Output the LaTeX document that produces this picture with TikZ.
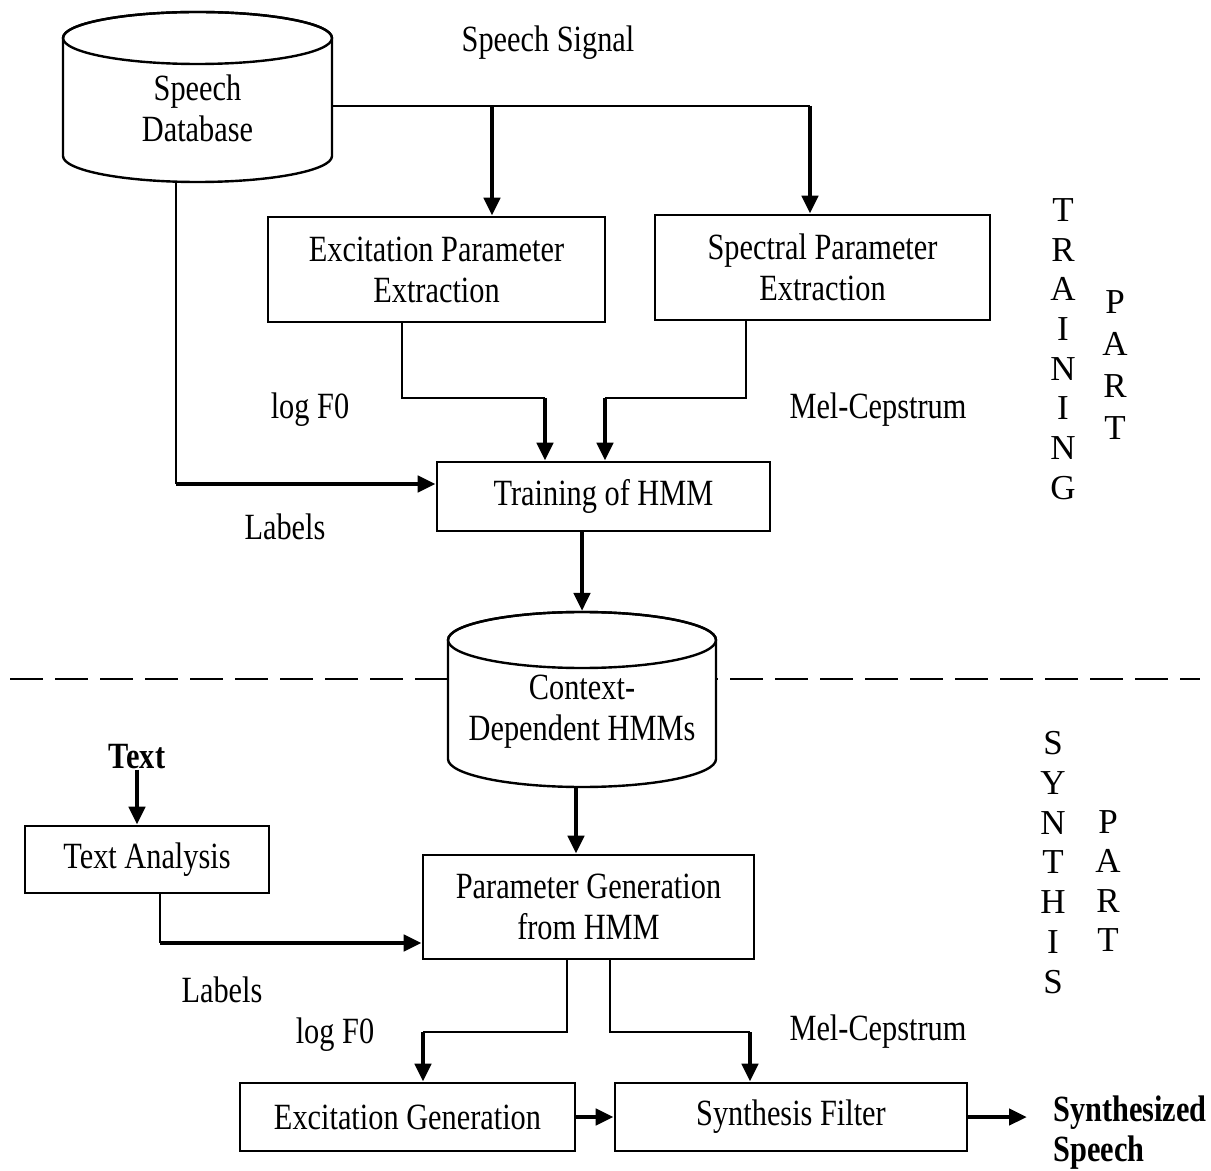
\documentclass[tikz,border=0pt]{standalone}
\usepackage{fontspec}
\setmainfont{Liberation Serif}[FakeStretch=0.82]
\newfontfamily\stackfont{Liberation Serif}
\usetikzlibrary{arrows.meta}
\begin{document}
\begin{tikzpicture}[x=0.5pt,y=-0.5pt,
  every node/.style={inner sep=0pt, font=\fontsize{18.5}{20.5}\selectfont},
  box/.style={draw, line width=1.4pt, align=center},
  lbl/.style={align=center},
  boldlbl/.style={align=left, font=\fontsize{18.5}{20}\selectfont\bfseries},
  wire/.style={line width=1.2pt},
  flow/.style={line width=2.4pt, -{Triangle[length=9pt,width=8pt]}},
  cylbody/.style={fill=white, draw, line width=1.2pt},
  letters/.style={align=center},
  divider/.style={line width=1.2pt, dash pattern=on 16.5pt off 6pt}
]
% canvas
\fill[white] (0,0) rectangle (1211,1171);
\useasboundingbox (0,0) rectangle (1211,1171);

% boundary between training and synthesis
\coordinate (dl) at (10,679);
\coordinate (dr) at (1200,679);
\draw[divider] (dl) -- (dr);

% speech database cylinder
\path[cylbody] (63,38) -- (63,156)
  arc[start angle=180, end angle=360, x radius=67.25pt, y radius=13pt]
  -- (332,38)
  arc[start angle=0, end angle=180, x radius=67.25pt, y radius=13pt] -- cycle;
\draw[line width=1.2pt] (197.5,38) ellipse [x radius=67.25pt, y radius=13pt];
\node[lbl, minimum width=134.5pt] (db) at (197.5,108) {Speech\\Database};
\coordinate (dbbot) at (176,182);

% context-dependent HMM cylinder
\path[cylbody] (448,640) -- (448,759)
  arc[start angle=180, end angle=360, x radius=67pt, y radius=14pt]
  -- (716,640)
  arc[start angle=0, end angle=180, x radius=67pt, y radius=14pt] -- cycle;
\draw[line width=1.2pt] (582,640) ellipse [x radius=67pt, y radius=14pt];
\node[lbl] (cdb) at (582,712) {Context-\\Dependent HMMs};
\coordinate (cdbtop) at (582,611);
\coordinate (cdbbot) at (576,787);

% processing blocks
\node[box, minimum width=168.5pt, minimum height=52.5pt] (excp) at (436.5,269.5) {Excitation Parameter\\Extraction};
\node[box, minimum width=167.5pt, minimum height=52.5pt] (spec) at (822.5,267.5) {Spectral Parameter\\Extraction};
\node[box, minimum width=166.5pt, minimum height=34.5pt] (train) at (603.5,496.5) {Training of HMM};
\node[box, minimum width=122pt, minimum height=33.5pt] (tana) at (147,859.5) {Text Analysis};
\node[box, minimum width=165.5pt, minimum height=52pt] (pgen) at (588.5,907) {Parameter Generation\\from HMM};
\node[box, minimum width=167.5pt, minimum height=34pt] (exgen) at (407.5,1117) {Excitation Generation};
\node[box, minimum width=176pt, minimum height=34pt] (synf) at (791,1117) {Synthesis Filter};

% labels
\node[lbl] (sig) at (548,43) {Speech Signal};
\node[lbl] (lf1) at (310,410) {log F0};
\node[lbl] (mc1) at (878,410) {Mel-Cepstrum};
\node[lbl] (lab1) at (285,527) {Labels};
\node[boldlbl] (txt) at (137,757) {Text};
\node[lbl] (lab2) at (222,990) {Labels};
\node[lbl] (lf2) at (335,1035) {log F0};
\node[lbl] (mc2) at (878,1032) {Mel-Cepstrum};
\node[boldlbl, anchor=west] (out) at (1053,1133) {Synthesized\\Speech};

% side captions
\node[letters, font=\stackfont\fontsize{17.5}{19.85}\selectfont] (trn) at (1063,349) {T\\R\\A\\I\\N\\I\\N\\G};
\node[letters, font=\stackfont\fontsize{17.5}{21}\selectfont] (trp) at (1115,365) {P\\A\\R\\T};
\node[letters, font=\stackfont\fontsize{17.5}{19.9}\selectfont] (syn) at (1053,862.5) {S\\Y\\N\\T\\H\\I\\S};
\node[letters, font=\stackfont\fontsize{17.5}{19.65}\selectfont] (syp) at (1108,881) {P\\A\\R\\T};

% training connections
\coordinate (s1) at (492,106);
\coordinate (s2) at (810,106);
\draw[wire] (db.east |- s1) -- (s2);
\draw[flow] (s1) -- (s1 |- excp.north);
\draw[flow] (s2) -- (s2 |- spec.north);

\coordinate (k1) at (402,398);
\coordinate (k2) at (545,398);
\draw[wire] (excp.south -| k1) -- (k1) -- (k2);
\draw[flow] (k2) -- (k2 |- train.north);
\coordinate (k3) at (746,398);
\coordinate (k4) at (605,398);
\draw[wire] (spec.south -| k3) -- (k3) -- (k4);
\draw[flow] (k4) -- (k4 |- train.north);

\coordinate (k5) at (176,484);
\draw[wire] (dbbot) -- (k5);
\draw[flow] (k5) -- (k5 -| train.west);

\draw[flow] (train.south -| cdbtop) -- (cdbtop);

% synthesis connections
\draw[flow] (cdbbot) -- (cdbbot |- pgen.north);
\draw[flow] (txt.south) -- (txt.south |- tana.north);
\coordinate (k6) at (160,943);
\draw[wire] (tana.south -| k6) -- (k6);
\draw[flow] (k6) -- (k6 -| pgen.west);

\coordinate (k7) at (567,1032);
\coordinate (k8) at (423,1032);
\draw[wire] (pgen.south -| k7) -- (k7) -- (k8);
\draw[flow] (k8) -- (k8 |- exgen.north);
\coordinate (k9) at (610,1032);
\coordinate (k10) at (750,1032);
\draw[wire] (pgen.south -| k9) -- (k9) -- (k10);
\draw[flow] (k10) -- (k10 |- synf.north);

\draw[flow] (exgen) -- (synf);
\coordinate (outtip) at (1027,1117);
\draw[flow] (synf.east) -- (outtip);
\end{tikzpicture}
\end{document}
